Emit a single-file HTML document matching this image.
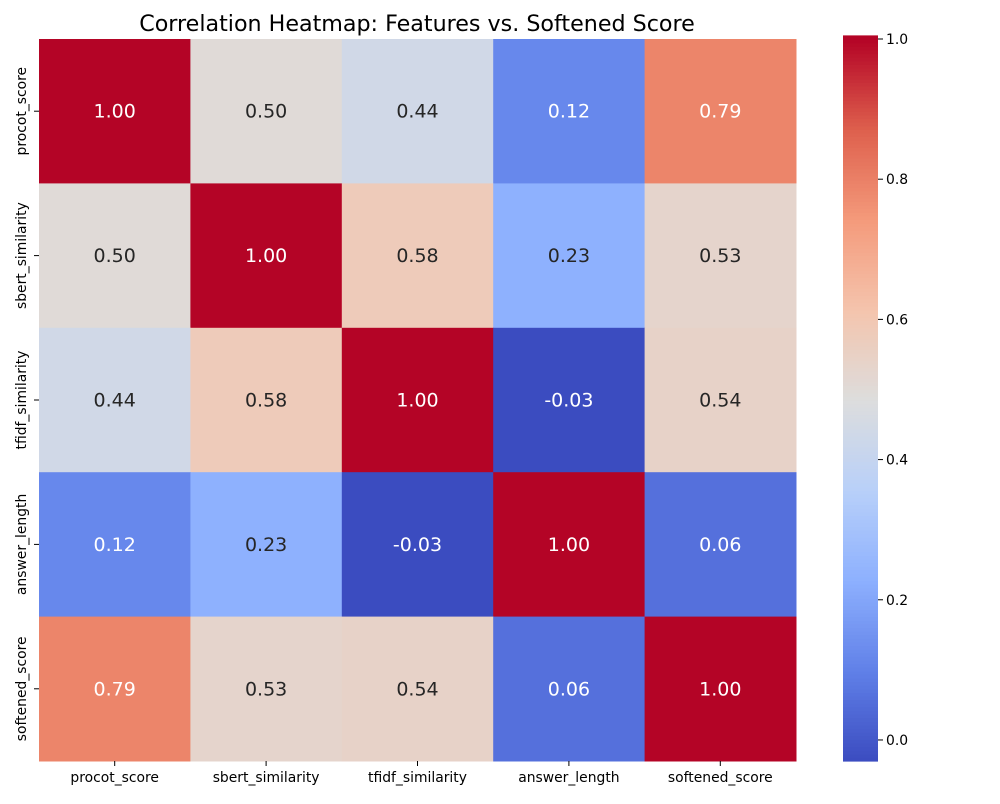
<!DOCTYPE html>
<html><head><meta charset="utf-8"><style>
body{margin:0;background:#fff;font-family:"DejaVu Sans","Liberation Sans",sans-serif;}
</style></head><body>
<svg id="chart" width="1000" height="800" xmlns="http://www.w3.org/2000/svg" font-family="DejaVu Sans, Liberation Sans, sans-serif">
<text x="417" y="31" font-size="22.2" text-anchor="middle" fill="#000">Correlation Heatmap: Features vs. Softened Score</text>
<g id="cells"></g><g id="xlab"></g><g id="ylab"></g><g id="cbar"></g>
</svg>
<script>
const labels = ["procot_score","sbert_similarity","tfidf_similarity","answer_length","softened_score"];
const row0 = [1.00,0.50,0.44,0.12,0.79];
const row1 = [0.50,1.00,0.58,0.23,0.53];
const row2 = [0.44,0.58,1.00,-0.03,0.54];
const row3 = [0.12,0.23,-0.03,1.00,0.06];
const row4 = [0.79,0.53,0.54,0.06,1.00];
const matrix = [row0,row1,row2,row3,row4];
const cbTicks = [0.0,0.2,0.4,0.6,0.8,1.0];
const vmin = -0.03, vmax = 1.0;

const NS="http://www.w3.org/2000/svg";
const X0=39,X1=796,Y0=39,Y1=761;
const n=labels.length, cw=(X1-X0)/n, ch=(Y1-Y0)/n;
const xPos=i=>X0+i*cw, yPos=j=>Y0+j*ch;
const stops=[[0,[59,76,192]],[0.125,[96,128,232]],[0.25,[141,176,254]],[0.375,[184,208,249]],[0.5,[221,221,221]],[0.625,[244,196,173]],[0.75,[244,154,123]],[0.875,[222,96,77]],[1,[180,4,38]]];
function cmap(v){let t=Math.max(0,Math.min(1,(v-vmin)/(vmax-vmin)));
 for(let k=1;k<stops.length;k++){if(t<=stops[k][0]){const a=stops[k-1],b=stops[k],f=(t-a[0])/(b[0]-a[0]);
 return a[1].map((c,i)=>Math.round(c+(b[1][i]-c)*f));}} return stops[stops.length-1][1];}
function lin(c){c/=255;return c<=0.03928?c/12.92:Math.pow((c+0.055)/1.055,2.4);}
function mk(tag,attrs,parent){const e=document.createElementNS(NS,tag);for(const k in attrs)e.setAttribute(k,attrs[k]);parent.appendChild(e);return e;}
const cells=document.getElementById('cells');
matrix.forEach((row,j)=>row.forEach((v,i)=>{
 const c=cmap(v);
 const r=mk('rect',{x:xPos(i),y:yPos(j),width:cw+0.5,height:ch+0.5,fill:`rgb(${c})`},cells);
 
 
 const lum=0.2126*lin(c[0])+0.7152*lin(c[1])+0.0722*lin(c[2]);
 const t=mk('text',{x:xPos(i)+cw/2,y:yPos(j)+ch/2+6.5,'font-size':19,'text-anchor':'middle',fill:lum<0.408?'#fff':'#262626'},cells);
 t.textContent=v.toFixed(2);
 
 
}));
const xl=document.getElementById('xlab'), yl=document.getElementById('ylab');
labels.forEach((l,i)=>{
 mk('line',{x1:xPos(i)+cw/2,x2:xPos(i)+cw/2,y1:Y1,y2:Y1+5,stroke:'#000'},xl);
 const t=mk('text',{x:xPos(i)+cw/2,y:Y1+21,'font-size':13.9,'text-anchor':'middle'},xl);
 t.textContent=l;
 
 
 const cy=yPos(i)+ch/2;
 mk('line',{x1:X0-5,x2:X0,y1:cy,y2:cy,stroke:'#000'},yl);
 const u=mk('text',{x:0,y:0,'font-size':13.9,'text-anchor':'middle',transform:`translate(26,${cy}) rotate(-90)`},yl);
 u.textContent=l;
 
 
});
const cb=document.getElementById('cbar');
const CX=843,CW=35;
const cy=v=>Y1-(v-vmin)/(vmax-vmin)*(Y1-Y0);
for(let k=0;k<=200;k++){const v0=vmin+(vmax-vmin)*k/200,v1=vmin+(vmax-vmin)*(k+1)/200;
 const c=cmap((v0+v1)/2);
 mk('rect',{x:CX,y:cy(v1),width:CW,height:cy(v0)-cy(v1)+0.6,fill:`rgb(${c})`},cb);}
cbTicks.forEach(v=>{
 mk('line',{x1:CX+CW,x2:CX+CW+5,y1:cy(v),y2:cy(v),stroke:'#000'},cb);
 const t=mk('text',{x:CX+CW+8,y:cy(v)+5,'font-size':13.9},cb);
 t.textContent=v.toFixed(1);
 
 
});
</script>
</body></html>
